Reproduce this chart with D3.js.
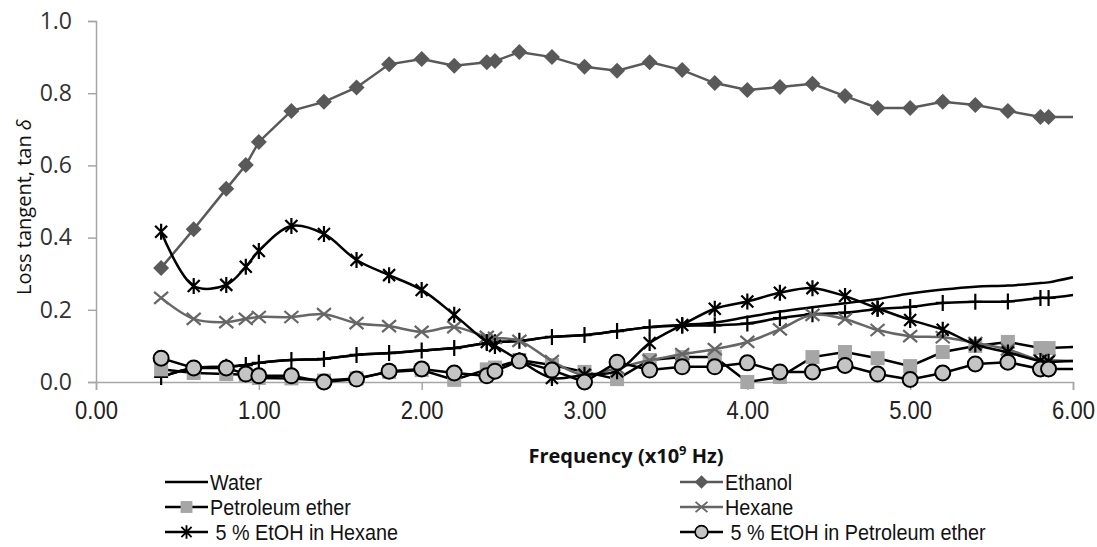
<!DOCTYPE html>
<html>
<head>
<meta charset="utf-8">
<script src="https://cdn.jsdelivr.net/npm/d3@7"></script>
<style>
  body { margin: 0; background: #fff; }
  svg { display: block; }
</style>
</head>
<body>
<div id="chart"></div>
<script>
// frequency points (x10^9 Hz)
var freq = [0.4, 0.6, 0.8, 0.92, 1.0, 1.2, 1.4, 1.6, 1.8, 2.0, 2.2, 2.4, 2.45, 2.6, 2.8, 3.0,
            3.2, 3.4, 3.6, 3.8, 4.0, 4.2, 4.4, 4.6, 4.8, 5.0, 5.2, 5.4, 5.6, 5.8, 5.85, 6.0];

var water = [0.014, 0.039, 0.042, 0.047, 0.053, 0.061, 0.064, 0.075, 0.080, 0.087, 0.094, 0.108, 0.110, 0.114, 0.125, 0.130,
             0.141, 0.152, 0.158, 0.165, 0.180, 0.195, 0.207, 0.218, 0.230, 0.245, 0.256, 0.264, 0.267, 0.274, 0.276, 0.290];
var waterPlus = [0.014, 0.039, 0.042, 0.047, 0.053, 0.061, 0.064, 0.075, 0.080, 0.087, 0.094, 0.108, 0.110, 0.114, 0.125, 0.130,
             0.141, 0.152, 0.156, 0.157, 0.162, 0.177, 0.188, 0.192, 0.202, 0.208, 0.219, 0.222, 0.223, 0.233, 0.233, 0.241];
var ethanol = [0.316, 0.423, 0.535, 0.601, 0.665, 0.751, 0.776, 0.816, 0.880, 0.895, 0.876, 0.886, 0.889, 0.914, 0.900, 0.873,
               0.862, 0.886, 0.864, 0.828, 0.809, 0.817, 0.826, 0.792, 0.759, 0.759, 0.776, 0.767, 0.751, 0.734, 0.734, 0.734];
var petEther = [0.035, 0.025, 0.022, 0.020, 0.011, 0.010, 0.004, 0.010, 0.028, 0.033, 0.006, 0.035, 0.040, 0.061, 0.047, 0.028,
                0.008, 0.061, 0.069, 0.069, 0.000, 0.014, 0.069, 0.083, 0.066, 0.044, 0.083, 0.100, 0.111, 0.094, 0.094, 0.097];
var hexane = [0.233, 0.175, 0.166, 0.175, 0.180, 0.180, 0.188, 0.163, 0.155, 0.139, 0.152, 0.125, 0.122, 0.114, 0.058, 0.019,
              0.039, 0.060, 0.077, 0.091, 0.111, 0.146, 0.186, 0.174, 0.144, 0.127, 0.124, 0.108, 0.090, 0.060, 0.060, 0.058];
var etohHex = [0.416, 0.266, 0.269, 0.319, 0.363, 0.432, 0.410, 0.338, 0.296, 0.255, 0.186, 0.111, 0.100, 0.060, 0.011, 0.020,
               0.030, 0.108, 0.158, 0.203, 0.223, 0.247, 0.260, 0.238, 0.204, 0.172, 0.145, 0.104, 0.082, 0.058, 0.056, 0.058];
var etohPet = [0.066, 0.039, 0.039, 0.022, 0.017, 0.017, 0.000, 0.008, 0.030, 0.036, 0.025, 0.017, 0.030, 0.058, 0.033, 0.000,
               0.055, 0.033, 0.042, 0.042, 0.053, 0.028, 0.028, 0.046, 0.022, 0.007, 0.025, 0.050, 0.055, 0.036, 0.036, 0.036];

var xTicks = [0, 1, 2, 3, 4, 5, 6];
var yTicks = [0, 0.2, 0.4, 0.6, 0.8, 1.0];

var width = 1097, height = 547;
var margin = {left: 96, right: 24, top: 21, bottom: 165};

var svg = d3.select("#chart").append("svg")
    .attr("width", width)
    .attr("height", height);

var x = d3.scaleLinear().domain([0, 6]).range([margin.left, width - margin.right]);
var y = d3.scaleLinear().domain([0, 1]).range([height - margin.bottom, margin.top]);

// axes
var xAxis = svg.append("g")
    .attr("transform", "translate(0," + y(0) + ")")
    .call(d3.axisBottom(x).tickValues(xTicks).tickFormat(d3.format(".2f")).tickSize(8).tickPadding(11));
var yAxis = svg.append("g")
    .attr("transform", "translate(" + x(0) + ",0)")
    .call(d3.axisLeft(y).tickValues(yTicks).tickFormat(d3.format(".1f")).tickSize(8).tickPadding(16));

svg.selectAll(".domain, .tick line").attr("stroke", "#a6a6a6").attr("stroke-width", 1.5);
xAxis.selectAll("text")
    .attr("font-family", "'Liberation Sans', Arial, sans-serif")
    .attr("font-size", 25).attr("fill", "#222")
    .attr("transform", "scale(0.88,1)");
yAxis.selectAll("text")
    .attr("font-family", "'Open Sans', sans-serif")
    .attr("font-size", 23).attr("fill", "#333");

// axis titles
var yTitle = svg.append("text")
    .attr("transform", "translate(31,207) rotate(-90)")
    .attr("text-anchor", "middle")
    .attr("font-family", "'Open Sans', sans-serif")
    .attr("font-size", 20)
    .attr("fill", "#111");
yTitle.append("tspan").text("Loss tangent, tan ");
yTitle.append("tspan").attr("font-style", "italic").text("δ");

var xTitle = svg.append("text")
    .attr("x", 626).attr("y", 463)
    .attr("text-anchor", "middle")
    .attr("font-family", "'Open Sans', sans-serif")
    .attr("font-weight", "bold")
    .attr("font-size", 20)
    .attr("fill", "#111");
xTitle.append("tspan").text("Frequency (x10");
xTitle.append("tspan").attr("font-size", 13).attr("dy", -8).text("9");
xTitle.append("tspan").attr("dy", 8).text(" Hz)");

// marker drawing
function drawMarker(g, type) {
    if (type == "diamond") {
        g.append("path").attr("d", "M0,-8L8,0L0,8L-8,0Z").attr("fill", "#595959");
    } else if (type == "square") {
        g.append("rect").attr("x", -7).attr("y", -7).attr("width", 14).attr("height", 14).attr("fill", "#a6a6a6");
    } else if (type == "cross") {
        g.append("path").attr("d", "M-7,-6L7,6M-7,6L7,-6").attr("stroke", "#666").attr("stroke-width", 2.2).attr("fill", "none");
    } else if (type == "plus") {
        g.append("path").attr("d", "M0,-8L0,8M-7,0L7,0").attr("stroke", "#000").attr("stroke-width", 2.2).attr("fill", "none");
    } else if (type == "star") {
        g.append("path").attr("d", "M-6,-6L6,6M-6,6L6,-6M0,-8L0,8").attr("stroke", "#000").attr("stroke-width", 2.2).attr("fill", "none");
    } else if (type == "circle") {
        g.append("circle").attr("r", 7.5).attr("fill", "#c4c4c4").attr("stroke", "#000").attr("stroke-width", 2);
    }
}

var series = [
    {name: "Water", values: water, color: "#000", marker: null, curve: d3.curveCatmullRom},
    {name: "", values: waterPlus, color: "#000", marker: "plus", curve: d3.curveCatmullRom},
    {name: "Ethanol", values: ethanol, color: "#595959", marker: "diamond", curve: d3.curveLinear},
    {name: "Petroleum ether", values: petEther, color: "#000", marker: "square", curve: d3.curveLinear},
    {name: "Hexane", values: hexane, color: "#666", marker: "cross", curve: d3.curveCatmullRom},
    {name: " 5 % EtOH in Hexane", values: etohHex, color: "#000", marker: "star", curve: d3.curveCatmullRom},
    {name: " 5 % EtOH in Petroleum ether", values: etohPet, color: "#000", marker: "circle", curve: d3.curveLinear}
];

series.forEach(function(s) {
    var pts = freq.map(function(f, i) { return {f: f, v: s.values[i]}; });
    var line = d3.line()
        .x(function(d) { return x(d.f); })
        .y(function(d) { return y(d.v); })
        .curve(s.curve);
    svg.append("path")
        .datum(pts)
        .attr("d", line)
        .attr("fill", "none")
        .attr("stroke", s.color)
        .attr("stroke-width", 2.5);
    if (s.marker) {
        svg.append("g").selectAll("g")
            .data(pts.filter(function(d) { return d.f < 6; }))
            .enter()
            .append("g")
            .attr("transform", function(d) { return "translate(" + x(d.f) + "," + y(d.v) + ")"; })
            .each(function() { drawMarker(d3.select(this), s.marker); });
    }
});

// legend
var legendItems = series.filter(function(s) { return s.name != ""; });
var legend = svg.append("g").selectAll("g")
    .data(legendItems)
    .enter()
    .append("g")
    .attr("transform", function(d, i) {
        var col = i % 2, row = Math.floor(i / 2);
        return "translate(" + (col == 0 ? 165 : 680) + "," + (482 + row * 25) + ")";
    });
legend.append("line")
    .attr("x1", 0).attr("x2", 43)
    .attr("stroke", function(d) { return d.color; })
    .attr("stroke-width", 2.5);
legend.each(function(d) {
    if (d.marker) {
        var g = d3.select(this).append("g").attr("transform", "translate(21.5,0) scale(0.85)");
        drawMarker(g, d.marker);
    }
});
legend.append("text")
    .attr("transform", "translate(45,8) scale(0.9,1)")
    .style("white-space", "pre")
    .attr("font-family", "'Liberation Sans', Arial, sans-serif")
    .attr("font-size", 22)
    .attr("fill", "#111")
    .text(function(d) { return d.name; });
</script>
</body>
</html>
